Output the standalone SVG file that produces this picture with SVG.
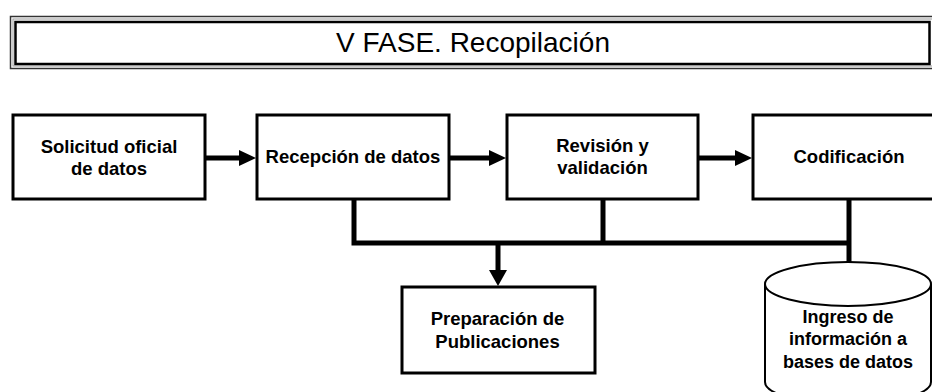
<svg xmlns="http://www.w3.org/2000/svg" width="932" height="392" viewBox="0 0 932 392">
<defs>
<style>
.box{fill:#fff;stroke:#000;stroke-width:3}
.t{font-family:"Liberation Sans",Arial,sans-serif;font-weight:bold;font-size:18.5px;fill:#000;text-anchor:middle}
.c{fill:none;stroke:#000;stroke-width:5}
.title{font-family:"Liberation Sans Narrow","Liberation Sans",Arial,sans-serif;font-size:28px;fill:#000;text-anchor:middle}
</style>
</defs>
<rect width="932" height="392" fill="#fff"/>
<g id="title">
<rect x="10.5" y="16.5" width="940" height="52" fill="none" stroke="#333" stroke-width="1.5"/>
<rect x="13" y="19" width="940" height="47" fill="none" stroke="#999" stroke-width="1"/>
<rect x="15.5" y="22" width="914" height="42" fill="none" stroke="#000" stroke-width="2.5"/>
<text class="title" x="473" y="52" textLength="274" lengthAdjust="spacingAndGlyphs">V FASE. Recopilación</text>
</g>
<g id="connectors">
<line class="c" x1="205" y1="158" x2="241" y2="158"/>
<polygon points="239,150 256,158 239,166"/>
<line class="c" x1="449" y1="158" x2="491" y2="158"/>
<polygon points="489,150 506,158 489,166"/>
<line class="c" x1="698" y1="158" x2="737" y2="158"/>
<polygon points="735,150 752,158 735,166"/>
<polyline class="c" points="354,199 354,243 849,243"/>
<line class="c" x1="603" y1="199" x2="603" y2="243"/>
<line class="c" x1="849" y1="199" x2="849" y2="262"/>
<line class="c" x1="498" y1="243" x2="498" y2="272"/>
<polygon points="489,270 507,270 498,286"/>
</g>
<g id="n1">
<rect class="box" x="13" y="115" width="192" height="84"/>
<text class="t" x="109" y="153">Solicitud oficial</text>
<text class="t" x="109" y="175">de datos</text>
</g>
<g id="n2">
<rect class="box" x="257" y="115" width="192" height="84"/>
<text class="t" x="353" y="163">Recepción de datos</text>
</g>
<g id="n3">
<rect class="box" x="507" y="115" width="191" height="84"/>
<text class="t" x="602.5" y="152">Revisión y</text>
<text class="t" x="602.5" y="174">validación</text>
</g>
<g id="n4">
<rect class="box" x="753" y="115" width="192" height="84"/>
<text class="t" x="849" y="163">Codificación</text>
</g>
<g id="n5">
<rect class="box" x="402" y="287" width="193" height="86"/>
<text class="t" x="497.5" y="325">Preparación de</text>
<text class="t" x="497.5" y="348">Publicaciones</text>
</g>
<g id="n6">
<path d="M765,284 L765,382 A83,22 0 0 0 931,382 L931,284 A83,22 0 0 0 765,284 Z" fill="#fff" stroke="#000" stroke-width="2"/>
<path d="M765,284 A83,22 0 0 0 931,284" fill="none" stroke="#000" stroke-width="2"/>
<text class="t" x="848" y="323" style="font-size:18px">Ingreso de</text>
<text class="t" x="848" y="345" style="font-size:18px">información a</text>
<text class="t" x="848" y="368" style="font-size:18px">bases de datos</text>
</g>
</svg>
